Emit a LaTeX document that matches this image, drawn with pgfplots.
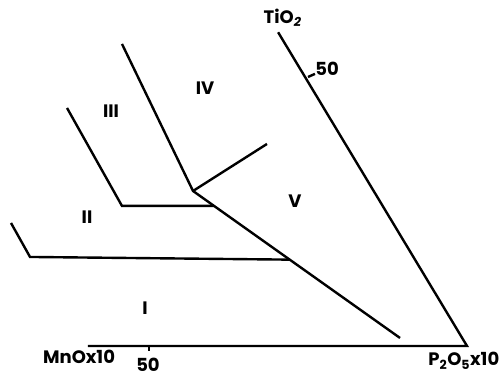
\documentclass[border=0pt]{standalone}
\usepackage{fontspec}
\setmainfont{Poppins}
\usepackage{pgfplots}
\pgfplotsset{compat=1.18}
\begin{document}
\begin{tikzpicture}
\begin{axis}[scale only axis, width=500pt, height=376pt,
  xmin=26.57, xmax=105.19, ymin=-4.83, ymax=55.69,
  axis lines=none, clip=false,
  myline/.style={black, line width=2.4pt, mark=none, line join=miter, solid}]
\path (rel axis cs:0,0) rectangle (rel axis cs:1,1);
% triangle edges (base and right edge)
\addplot[myline] coordinates {(40.4,0) (100,0) (70.3,50.5)};
% ticks at 50
\addplot[myline] coordinates {(50,0) (50,-0.8)};
\addplot[myline] coordinates {(75,43.3) (76.1,43.8)};
% field boundaries
\addplot[myline] coordinates {(45.75,48.62) (56.92,24.95) (89.47,1.29)};
\addplot[myline] coordinates {(56.92,24.95) (68.55,32.52)};
\addplot[myline] coordinates {(37.11,38.31) (45.75,22.54) (60.2,22.54)};
\addplot[myline] coordinates {(28.30,19.80) (31.29,14.33) (72.0,13.9)};
% labels
\begin{scope}[every node/.style={inner sep=0pt, font=\fontsize{18}{21}\selectfont\bfseries}]
\node at (axis cs:71.0,52.8) {TiO\textsubscript{\itshape 2}};
\node at (axis cs:78.0,44.6) {50};
\node at (axis cs:39.0,-1.77) {MnOx10};
\node at (axis cs:49.84,-2.95) {50};
\node at (axis cs:99.5,-2.4) {P\textsubscript{2}O\textsubscript{5}x10};
\node at (axis cs:49.37,6.12) {I};
\node at (axis cs:40.25,20.77) {II};
\node at (axis cs:44.03,37.83) {III};
\node at (axis cs:58.8,41.53) {IV};
\node at (axis cs:72.96,23.34) {V};
\end{scope}
\end{axis}
\end{tikzpicture}
\end{document}
